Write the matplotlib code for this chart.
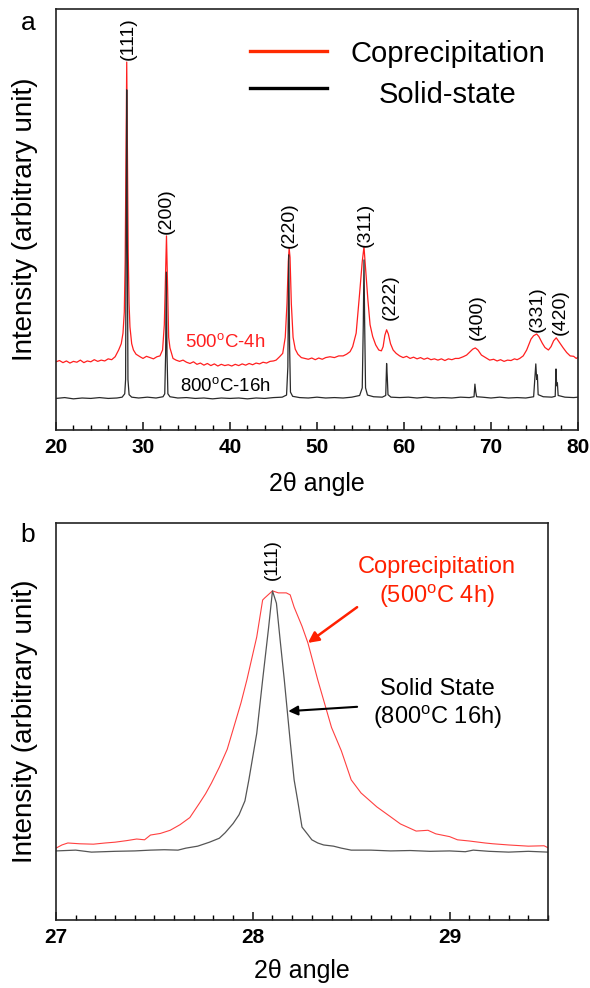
import matplotlib
matplotlib.use('Agg')
import matplotlib.pyplot as plt
from matplotlib.ticker import MultipleLocator
from matplotlib.lines import Line2D

plt.rcParams['font.family'] = ['Liberation Sans', 'DejaVu Sans']
plt.rcParams['mathtext.fontset'] = 'custom'
plt.rcParams['mathtext.rm'] = 'Liberation Sans'
plt.rcParams['mathtext.it'] = 'Liberation Sans:italic'
plt.rcParams['mathtext.bf'] = 'Liberation Sans:bold'

# ---------------- Panel a data (2theta, intensity in arbitrary units) ----------------
copre_x = [20.0, 20.4, 20.8, 21.2, 21.6, 22.0, 22.4, 22.8, 23.2, 23.6, 24.0, 24.4, 24.8, 25.2, 25.6,
           26.0, 26.4, 26.8, 27.2, 27.5, 27.7, 27.85, 27.95, 28.05, 28.13, 28.2, 28.3, 28.4, 28.5,
           28.7, 28.9, 29.2, 29.66, 30.0, 30.4, 30.8, 31.2, 31.6, 31.95, 32.25, 32.45, 32.6, 32.7,
           32.8, 32.95, 33.1, 33.45, 33.8, 34.2, 34.6, 35.0, 35.4, 35.8, 36.2, 36.6, 37.0, 37.4,
           37.8, 38.2, 38.6, 39.0, 39.4, 39.8, 40.2, 40.6, 41.0, 41.4, 41.8, 42.2, 42.6, 43.0, 43.4,
           43.8, 44.2, 44.6, 45.0, 45.3, 45.7, 46.06, 46.35, 46.55, 46.7, 46.8, 46.9, 47.05, 47.25,
           47.5, 47.8, 48.2, 48.6, 49.0, 49.4, 49.8, 50.2, 50.6, 51.0, 51.5, 52.0, 52.5, 53.0, 53.4,
           53.8, 54.1, 54.5, 54.9, 55.2, 55.4, 55.6, 55.85, 56.1, 56.4, 56.75, 57.1, 57.4, 57.6,
           57.8, 58.0, 58.2, 58.45, 58.75, 59.1, 59.5, 59.9, 60.3, 60.7, 61.1, 61.5, 61.9, 62.3,
           62.7, 63.1, 63.5, 63.9, 64.3, 64.7, 65.1, 65.5, 65.9, 66.3, 66.8, 67.2, 67.6, 67.9, 68.2,
           68.5, 68.9, 69.3, 69.85, 70.3, 70.7, 71.1, 71.5, 71.9, 72.3, 72.7, 73.0, 73.3, 73.7, 74.1,
           74.6, 74.9, 75.25, 75.5, 75.9, 76.2, 76.6, 76.9, 77.2, 77.5, 77.8, 78.3, 78.7, 79.1,
           79.5, 79.8, 80.0]
copre_y = [16.2, 16.5, 16.0, 16.4, 15.9, 16.3, 16.1, 16.6, 16.0, 16.4, 16.2, 16.7, 16.3, 16.6, 16.4,
           16.9, 16.7, 17.4, 19.0, 20.5, 23.0, 28.0, 40.0, 65.0, 87.4, 70.0, 42.0, 30.0, 24.5,
           20.5, 19.0, 18.0, 17.4, 17.0, 17.5, 17.2, 16.9, 17.4, 17.6, 19.0, 25.0, 38.0, 46.1,
           36.0, 22.0, 19.5, 17.0, 16.6, 16.3, 16.6, 16.1, 15.8, 16.2, 15.6, 15.9, 15.4, 15.8,
           15.3, 15.7, 15.2, 15.6, 15.3, 15.5, 15.2, 15.6, 15.3, 15.7, 15.4, 15.8, 15.5, 15.9, 15.7,
           16.1, 15.9, 16.3, 16.4, 16.6, 17.4, 18.2, 22.0, 30.0, 40.0, 43.2, 41.0, 30.0, 22.0,
           19.2, 18.0, 17.2, 17.0, 16.8, 17.1, 16.7, 17.1, 16.8, 17.2, 17.4, 17.2, 17.6, 17.6, 18.0,
           18.6, 19.8, 23.0, 32.5, 40.0, 43.5, 38.0, 30.9, 25.0, 22.2, 20.2, 19.0, 18.8, 19.8,
           22.5, 23.8, 22.8, 20.5, 19.0, 18.2, 17.6, 17.2, 17.5, 17.0, 17.3, 16.9, 17.2, 16.8,
           17.1, 16.7, 16.9, 16.6, 16.9, 16.5, 16.9, 16.7, 17.0, 17.0, 17.4, 17.8, 18.6, 19.2, 19.5,
           19.0, 17.8, 17.3, 16.6, 16.8, 16.4, 16.7, 16.3, 16.6, 16.5, 16.9, 16.7, 17.0, 17.6, 19.0,
           21.6, 22.4, 22.8, 22.2, 20.6, 19.6, 19.0, 19.8, 21.2, 21.9, 21.0, 19.5, 18.4, 17.6,
           17.5, 17.0, 17.3]

solid_x = [20.0, 21.0, 22.0, 23.0, 24.0, 25.0, 26.0, 27.0, 27.6, 27.9, 28.0, 28.07, 28.13, 28.2,
           28.27, 28.4, 28.7, 29.5, 30.5, 31.5, 32.3, 32.5, 32.6, 32.68, 32.76, 32.86, 33.1, 34.0,
           35.0, 36.0, 37.0, 38.0, 39.0, 40.0, 41.0, 42.0, 43.0, 44.0, 45.0, 46.0, 46.5, 46.65,
           46.75, 46.85, 46.95, 47.2, 48.0, 49.0, 50.0, 51.0, 52.0, 53.0, 54.0, 54.9, 55.2, 55.32,
           55.4, 55.48, 55.58, 55.8, 56.5, 57.5, 57.9, 58.0, 58.08, 58.16, 58.5, 59.5, 60.5, 61.5,
           62.5, 63.5, 64.5, 65.5, 66.5, 67.5, 68.05, 68.15, 68.25, 68.35, 69.0, 70.0, 71.0, 72.0,
           73.0, 74.0, 74.9, 75.15, 75.25, 75.33, 75.42, 76.0, 77.0, 77.38, 77.47, 77.55, 77.63,
           77.72, 78.5, 79.5, 80.0]
solid_y = [7.5, 7.7, 7.4, 7.6, 7.5, 7.7, 7.5, 7.6, 7.8, 8.6, 12.0, 50.0, 80.8, 45.0,
           12.0, 8.4, 7.8, 7.6, 7.8, 7.6, 7.9, 8.6, 18.0, 37.5, 18.0, 8.6, 7.9, 7.6,
           7.7, 7.5, 7.6, 7.4, 7.6, 7.5, 7.6, 7.4, 7.6, 7.5, 7.7, 7.8, 8.3, 15.0,
           41.6, 20.0, 9.0, 8.0, 7.7, 7.6, 7.8, 7.6, 7.7, 7.6, 7.8, 8.2, 10.0, 25.0,
           40.4, 25.0, 10.0, 8.3, 7.9, 7.8, 8.2, 15.8, 12.5, 8.4, 7.8, 7.7, 7.8, 7.6,
           7.8, 7.6, 7.7, 7.6, 7.8, 7.7, 7.9, 10.9, 9.0, 7.9, 7.8, 7.6, 7.8, 7.6,
           7.7, 7.6, 7.9, 15.7, 12.0, 13.1, 8.4, 7.9, 7.8, 8.0, 14.5, 10.5, 11.2,
           8.2, 7.8, 7.7, 7.8]

peak_labels = ['(111)', '(200)', '(220)', '(311)', '(222)', '(400)', '(331)', '(420)']
peak_label_x = [28.25, 32.65, 46.8, 55.5, 58.4, 68.4, 75.3, 78.0]
peak_label_y = [92.9, 52.0, 48.7, 48.7, 31.6, 26.8, 28.7, 28.0]

series_names = ['Coprecipitation', 'Solid-state']
condition_labels = ['500$^{\\mathrm{o}}$C-4h', '800$^{\\mathrm{o}}$C-16h']

# ---------------- Panel b data (zoom on the (111) reflection) ----------------
zoom_copre_x = [27.00, 27.03, 27.06, 27.12, 27.19, 27.25, 27.30, 27.36, 27.41, 27.45, 27.48, 27.53,
                27.58, 27.63, 27.68, 27.73, 27.76, 27.79, 27.83, 27.87, 27.90, 27.94, 27.97, 28.02,
                28.05, 28.06, 28.10, 28.13, 28.17, 28.19, 28.21, 28.25, 28.28, 28.33, 28.40, 28.45,
                28.50, 28.55, 28.63, 28.70, 28.75, 28.83, 28.89, 28.93, 29.00, 29.04, 29.10, 29.18,
                29.22, 29.30, 29.40, 29.48, 29.50]
zoom_copre_y = [18.1, 18.9, 19.4, 19.2, 19.1, 19.4, 19.6, 20.0, 20.4, 20.2, 21.4, 21.8,
                22.6, 24.0, 25.8, 29.5, 31.8, 34.5, 38.5, 43.0, 48.0, 54.7, 60.5, 71.3,
                80.6, 81.1, 82.9, 82.4, 82.4, 81.9, 78.8, 74.0, 69.8, 60.5, 48.5, 42.6,
                35.3, 32.0, 28.5, 26.0, 24.2, 22.4, 22.6, 21.7, 21.0, 20.2, 19.9, 19.4,
                19.2, 18.9, 18.6, 18.7, 18.2]

zoom_solid_x = [27.00, 27.10, 27.18, 27.30, 27.40, 27.48, 27.55, 27.62, 27.66, 27.72, 27.78, 27.83,
                27.86, 27.90, 27.93, 27.96, 27.98, 28.02, 28.05, 28.08, 28.10, 28.12, 28.14, 28.16,
                28.19, 28.21, 28.23, 28.25, 28.28, 28.30, 28.33, 28.36, 28.41, 28.45, 28.50, 28.60,
                28.70, 28.80, 28.90, 29.00, 29.08, 29.12, 29.20, 29.30, 29.40, 29.50]
zoom_solid_y = [17.4, 17.6, 17.1, 17.3, 17.4, 17.6, 17.7, 17.6, 18.1, 18.6, 19.6, 20.6,
                22.0, 24.3, 26.5, 30.0, 35.3, 47.0, 60.5, 73.5, 82.9, 79.8, 70.0, 60.5,
                45.0, 35.3, 29.5, 23.4, 21.5, 20.2, 19.4, 18.9, 18.6, 18.1, 17.6, 17.6,
                17.4, 17.5, 17.3, 17.4, 17.2, 17.6, 17.3, 17.1, 17.3, 17.1]

zoom_notes = ['Coprecipitation\n(500$^{\\mathrm{o}}$C 4h)', 'Solid State\n(800$^{\\mathrm{o}}$C 16h)']

RED = '#ff1f1f'
DARK = '#2a2a2a'

W, H = 590, 988
fig = plt.figure(figsize=(W / 100, H / 100), dpi=100)

def style_axes(ax, major, minor):
    for s in ax.spines.values():
        s.set_linewidth(1.2)
        s.set_color('#222222')
    ax.set_yticks([])
    ax.xaxis.set_major_locator(MultipleLocator(major))
    ax.xaxis.set_minor_locator(MultipleLocator(minor))
    ax.tick_params(axis='x', which='major', direction='in', length=6, width=1.2,
                   top=False, pad=6, labelsize=15, colors='#222222')
    ax.tick_params(axis='x', which='minor', direction='in', length=3.6, width=1.0, top=False)
    for lbl in ax.get_xticklabels():
        lbl.set_fontweight('bold')
        lbl.set_color('black')

# ---------------- Panel a ----------------
ax1 = fig.add_axes([56 / W, 1 - 430 / H, 522 / W, 421 / H])
ax1.plot(copre_x, copre_y, color=RED, lw=0.9)
ax1.plot(solid_x, solid_y, color=DARK, lw=0.9)
ax1.set_xlim(20, 80)
ax1.set_ylim(0, 100)
style_axes(ax1, 10, 2)
for lab, px, py in zip(peak_labels, peak_label_x, peak_label_y):
    ax1.text(px, py, lab, rotation=90, ha='center', va='center', fontsize=14)
ax1.text(34.8, 20.9, condition_labels[0], color=RED, fontsize=13.4, ha='left', va='center')
ax1.text(34.25, 10.5, condition_labels[1], color='black', fontsize=13.4, ha='left', va='center')

# legend: line samples from the legend machinery, labels centred beside them
handles = [Line2D([], [], color='#ff2a00', lw=2.4), Line2D([], [], color='black', lw=2.4)]
ax1.legend(handles, ['', ''], loc='upper left', bbox_to_anchor=(0.372, 0.928),
           frameon=False, fontsize=21, handlelength=2.65, handletextpad=0.8,
           labelspacing=0.29, borderpad=0, borderaxespad=0)
ax1.text(0.751, 0.875, series_names[0], transform=ax1.transAxes, fontsize=21,
         ha='center', va='baseline')
ax1.text(0.751, 0.777, series_names[1], transform=ax1.transAxes, fontsize=21,
         ha='center', va='baseline')

ax1.set_xlabel('2\u03b8 angle', fontsize=18, va='center')
ax1.xaxis.set_label_coords(0.5, -0.128)
ax1.set_ylabel('Intensity (arbitrary unit)', fontsize=20, va='center')
ax1.yaxis.set_label_coords((25 - 56) / 522, 0.5)
fig.text(28 / W, 1 - 23 / H, 'a', fontsize=19, ha='center', va='center')

# ---------------- Panel b ----------------
ax2 = fig.add_axes([56 / W, 1 - 920 / H, 492 / W, 397 / H])
ax2.plot(zoom_copre_x, zoom_copre_y, color='#ff4040', lw=0.8)
ax2.plot(zoom_solid_x, zoom_solid_y, color='#555555', lw=0.9)
ax2.set_xlim(27, 29.5)
ax2.set_ylim(0, 100)
style_axes(ax2, 1, 0.1)
ax2.text(28.1, 90.7, '(111)', rotation=90, ha='center', va='center', fontsize=13.5)

ax2.text(28.936, 84.9, zoom_notes[0], color='#ff2000', fontsize=17, ha='center', va='center',
         linespacing=1.2)
ax2.text(28.936, 54.2, zoom_notes[1], color='black', fontsize=17, ha='center', va='center',
         linespacing=1.2)
ax2.annotate('', xy=(28.28, 69.8), xytext=(28.53, 78.8),
             arrowprops=dict(arrowstyle='-|>', color='#ff2000', lw=1.8, mutation_scale=16,
                             shrinkA=0, shrinkB=0))
ax2.annotate('', xy=(28.18, 52.6), xytext=(28.53, 53.7),
             arrowprops=dict(arrowstyle='-|>', color='black', lw=1.5, mutation_scale=14,
                             shrinkA=0, shrinkB=0))

ax2.set_xlabel('2\u03b8 angle', fontsize=18, va='center')
ax2.xaxis.set_label_coords(0.5, -0.128)
ax2.set_ylabel('Intensity (arbitrary unit)', fontsize=20, va='center')
ax2.yaxis.set_label_coords((25 - 56) / 492, 0.5)
fig.text(28 / W, 1 - 535 / H, 'b', fontsize=19, ha='center', va='center')

fig.savefig('out.png', dpi=100)
